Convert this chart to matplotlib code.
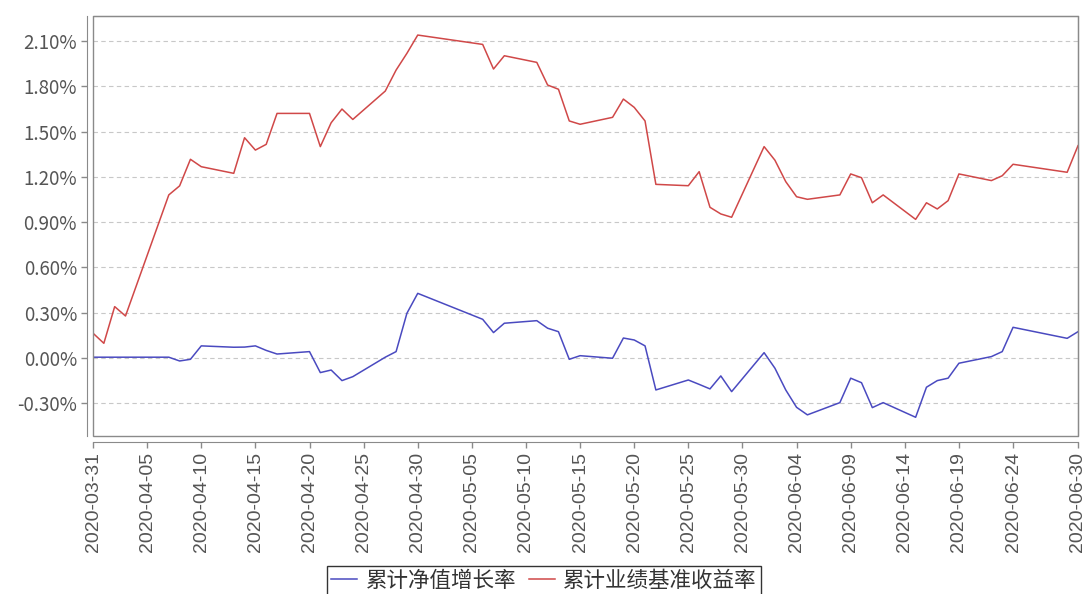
import matplotlib.pyplot as plt
import matplotlib.dates as mdates
from matplotlib.patches import Rectangle
from matplotlib.ticker import FuncFormatter
import pandas as pd

plt.rcParams['font.family'] = ['Noto Sans CJK SC', 'DejaVu Sans']

# 交易日
fechas = [
    '2020-03-31', '2020-04-01', '2020-04-02', '2020-04-03', '2020-04-07',
    '2020-04-08', '2020-04-09', '2020-04-10', '2020-04-13', '2020-04-14',
    '2020-04-15', '2020-04-16', '2020-04-17', '2020-04-20', '2020-04-21',
    '2020-04-22', '2020-04-23', '2020-04-24', '2020-04-27', '2020-04-28',
    '2020-04-29', '2020-04-30', '2020-05-06', '2020-05-07', '2020-05-08',
    '2020-05-11', '2020-05-12', '2020-05-13', '2020-05-14', '2020-05-15',
    '2020-05-18', '2020-05-19', '2020-05-20', '2020-05-21', '2020-05-22',
    '2020-05-25', '2020-05-26', '2020-05-27', '2020-05-28', '2020-05-29',
    '2020-06-01', '2020-06-02', '2020-06-03', '2020-06-04', '2020-06-05',
    '2020-06-08', '2020-06-09', '2020-06-10', '2020-06-11', '2020-06-12',
    '2020-06-15', '2020-06-16', '2020-06-17', '2020-06-18', '2020-06-19',
    '2020-06-22', '2020-06-23', '2020-06-24', '2020-06-29', '2020-06-30',
]

# 累计净值增长率 (%)
jingzhi = [
    0.005, 0.005, 0.005, 0.005, 0.005,
    -0.02, -0.009, 0.08, 0.071, 0.072,
    0.08, 0.05, 0.026, 0.042, -0.097,
    -0.08, -0.15, -0.124, 0.005, 0.042,
    0.296, 0.428, 0.256, 0.168, 0.23,
    0.247, 0.197, 0.174, -0.009, 0.015,
    -0.002, 0.132, 0.119, 0.08, -0.212,
    -0.146, -0.175, -0.205, -0.119, -0.223,
    0.035, -0.068, -0.212, -0.327, -0.377,
    -0.296, -0.134, -0.164, -0.329, -0.296,
    -0.393, -0.194, -0.15, -0.134, -0.035,
    0.009, 0.042, 0.203, 0.13, 0.174,
]

# 累计业绩基准收益率 (%)
jizhun = [
    0.164, 0.097, 0.34, 0.278, 1.08,
    1.14, 1.316, 1.267, 1.223, 1.459,
    1.377, 1.415, 1.62, 1.62, 1.40,
    1.558, 1.649, 1.58, 1.768, 1.907,
    2.018, 2.139, 2.077, 1.914, 2.002,
    1.958, 1.808, 1.78, 1.57, 1.548,
    1.594, 1.715, 1.66, 1.57, 1.15,
    1.141, 1.234, 0.998, 0.954, 0.932,
    1.40, 1.31, 1.168, 1.068, 1.051,
    1.08, 1.219, 1.194, 1.028, 1.08,
    0.918, 1.028, 0.987, 1.042, 1.219,
    1.175, 1.207, 1.283, 1.23, 1.406,
]

etiquetas_y = [-0.30, 0.00, 0.30, 0.60, 0.90, 1.20, 1.50, 1.80, 2.10]
ticks_x = list(pd.date_range('2020-03-31', '2020-06-24', freq='5D')) + [pd.Timestamp('2020-06-30')]

x = pd.to_datetime(fechas)
gris = '#8a8a8a'
texto = '#555555'

fig = plt.figure(figsize=(10.88, 5.94), dpi=100)
ax = fig.add_axes([0.0855, 0.266, 0.9053, 0.707])

ax.plot(x, jingzhi, color='#4a4ac0', lw=1.1, label='累计净值增长率')
ax.plot(x, jizhun, color='#d04848', lw=1.1, label='累计业绩基准收益率')

ax.set_xlim(pd.Timestamp('2020-03-31'), pd.Timestamp('2020-06-30'))
ax.set_ylim(-0.517, 2.265)
ax.set_yticks(etiquetas_y)
ax.yaxis.set_major_formatter(FuncFormatter(lambda v, p: f'{v:.2f}%'))
ax.set_xticks(ticks_x)
ax.xaxis.set_major_formatter(mdates.DateFormatter('%Y-%m-%d'))

ax.grid(axis='y', linestyle=(0, (4, 3)), color='#c8c8c8', lw=0.8)
ax.set_axisbelow(True)

for s in ax.spines.values():
    s.set_color(gris)
ax.spines['left'].set_position(('outward', 4))
ax.spines['bottom'].set_position(('outward', 4))
ax.add_patch(Rectangle((0, 0), 1, 1, transform=ax.transAxes, fill=False,
                       edgecolor=gris, lw=1.0, clip_on=False, zorder=5))

ax.tick_params(axis='both', colors=gris, labelcolor=texto, length=4, width=1)
ax.tick_params(axis='y', labelsize=13.5)
for lab in ax.get_xticklabels():
    lab.set_rotation(90)
    lab.set_fontsize(14)
    lab.set_family(['Liberation Sans', 'DejaVu Sans'])

leg = fig.legend(loc='lower center', bbox_to_anchor=(0.5, -0.022), ncol=2,
                 fontsize=15.5, frameon=True, fancybox=False, handlelength=1.2,
                 handletextpad=0.4, columnspacing=0.6, borderpad=0.2)
leg.get_frame().set_edgecolor('black')
leg.get_frame().set_linewidth(1.0)
for t in leg.get_texts():
    t.set_color('#333333')

fig.savefig('out.png', dpi=100)
